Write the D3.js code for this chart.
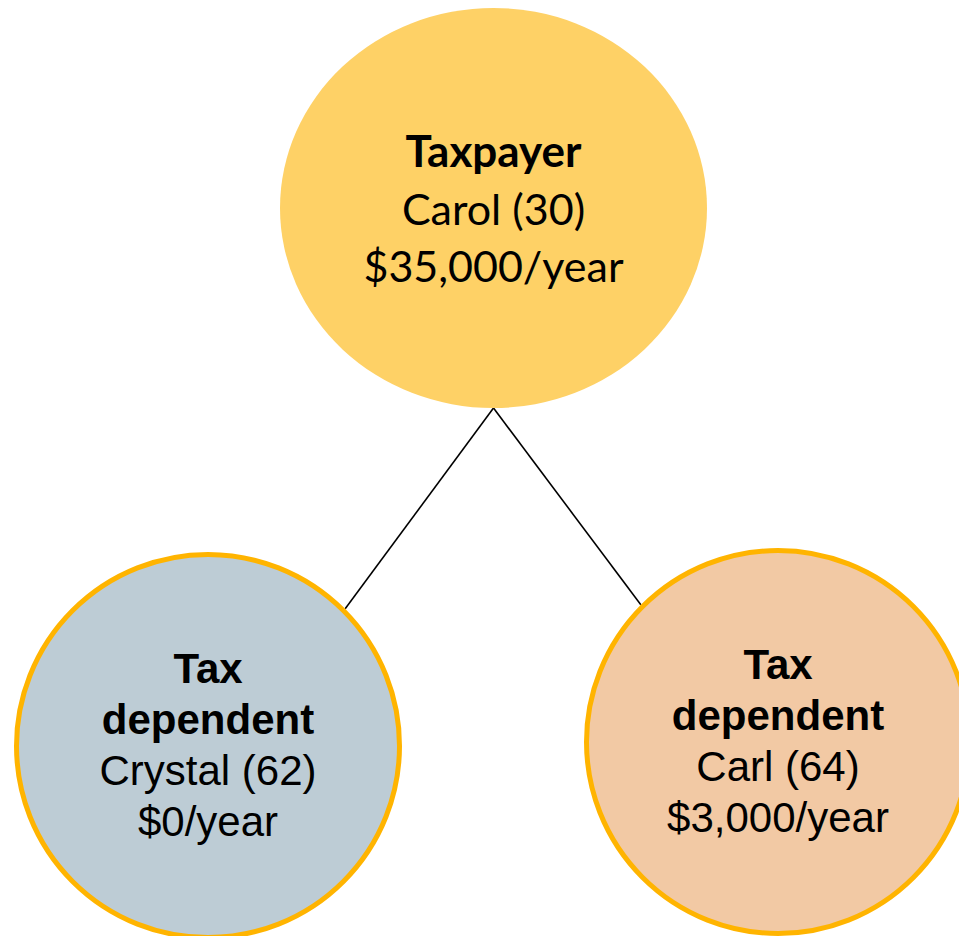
<!DOCTYPE html>
<html>
<head>
<meta charset="utf-8">
<script src="https://cdn.jsdelivr.net/npm/d3@7"></script>
<style>
  body { margin: 0; background: #fff; }
</style>
</head>
<body>
<div id="chart"></div>
<script>
// household members
var roles = [["Taxpayer"], ["Tax", "dependent"], ["Tax", "dependent"]];
var names = ["Carol", "Crystal", "Carl"];
var ages = [30, 62, 64];
var incomes = [35000, 0, 3000];
var fills = ["#FED166", "#BDCCD5", "#F2C9A4"];
var links = [[0, 1], [0, 2]];

var width = 959, height = 936;

var svg = d3.select("#chart").append("svg")
	.attr("width", width)
	.attr("height", height);

// layout of the three nodes
var nodes = names.map(function(n, i) {
	return {
		name: n, age: ages[i], income: incomes[i], role: roles[i], fill: fills[i],
		x: i == 0 ? 493.5 : (i == 1 ? 208 : 778),
		y: i == 0 ? 208 : (i == 1 ? 746 : 742),
		rx: i == 0 ? 213.5 : 191.5,
		ry: i == 0 ? 200 : 191.5
	};
});

var fmt = d3.format("$,");

// connector lines: bottom of taxpayer ellipse to 45deg point of dependents
svg.selectAll("line.link")
	.data(links)
	.enter().append("line")
	.attr("class", "link")
	.attr("x1", function(d) { return nodes[d[0]].x; })
	.attr("y1", function(d) { return nodes[d[0]].y + nodes[d[0]].ry; })
	.attr("x2", function(d) {
		var t = nodes[d[1]], s = t.x < nodes[d[0]].x ? 1 : -1;
		return t.x + s * (t.rx + 2.5) * Math.SQRT1_2; })
	.attr("y2", function(d) {
		var t = nodes[d[1]];
		return t.y - (t.ry + 2.5) * Math.SQRT1_2; })
	.style("stroke", "#000")
	.style("stroke-width", 1.6);

var g = svg.selectAll("g.node")
	.data(nodes)
	.enter().append("g")
	.attr("class", "node")
	.attr("transform", function(d) { return "translate(" + d.x + "," + d.y + ")"; });

g.append("ellipse")
	.attr("rx", function(d) { return d.rx; })
	.attr("ry", function(d) { return d.ry; })
	.style("fill", function(d) { return d.fill; })
	.style("stroke", function(d, i) { return i == 0 ? "none" : "#FFB400"; })
	.style("stroke-width", 5);

g.each(function(d, i) {
	var lines = d.role.map(function(r) { return { t: r, bold: true }; });
	lines.push({ t: d.name + " (" + d.age + ")", bold: false });
	lines.push({ t: fmt(d.income) + "/year", bold: false });
	var lh = i == 0 ? 57.5 : 51;
	var first = i == 0 ? -41 : -63;   // baseline of first line, relative to center
	d3.select(this).selectAll("text")
		.data(lines)
		.enter().append("text")
		.attr("text-anchor", "middle")
		.attr("y", function(l, k) { return first + k * lh; })
		.style("font-family", i == 0 ? "Lato, 'Open Sans', sans-serif" : "'Liberation Sans', Arial, sans-serif")
		.style("font-size", function(l) { return i == 0 ? (l.bold ? "44px" : "43px") : "42px"; })
		.style("font-weight", function(l) { return l.bold ? "bold" : "normal"; })
		.style("fill", "#000")
		.text(function(l) { return l.t; });
});
</script>
</body>
</html>
